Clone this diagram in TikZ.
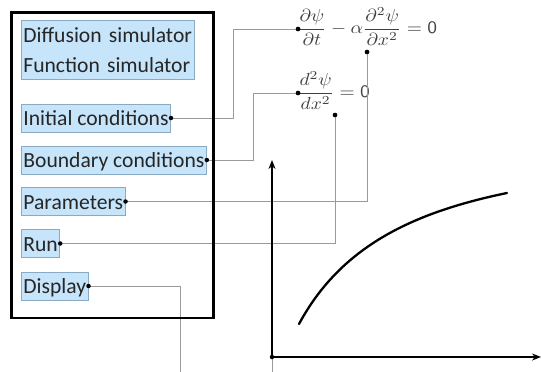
\documentclass[tikz,border=0pt]{standalone}
\usepackage{graphicx}
\usepackage{fontspec}
\newfontfamily\boxfont{Carlito}
\newcommand\menufont{\boxfont\fontsize{21.6}{30}\selectfont\hyphenpenalty=10000\relax\exhyphenpenalty=10000\relax}
\usetikzlibrary{arrows.meta}
\definecolor{boxfill}{HTML}{C6E4FA}
\definecolor{boxline}{HTML}{8AAAC4}
\definecolor{conncol}{HTML}{9A9A9A}
\definecolor{eqcol}{HTML}{404040}
\begin{document}
\begin{tikzpicture}[x=1pt,y=-1pt,
  menubase/.style={draw=boxline, fill=boxfill, line width=0.8pt,
    font=\menufont, text=black!85, inner xsep=2pt},
  menubox/.style={menubase, inner ysep=0pt, minimum height=28pt,
    text height=19.5pt, text depth=4pt, anchor=west},
  conn/.style={draw=conncol, line width=1pt},
  pin/.style={circle, fill=black, inner sep=0pt, minimum size=4.5pt},
  axis/.style={line width=2.6pt, line join=miter, {Stealth[length=9pt,width=7pt]}-{Stealth[length=9pt,width=7pt]}},
  eq/.style={text=eqcol, inner sep=0pt, anchor=base west}]
\useasboundingbox (0,0) rectangle (541,372);
\clip (0,0) rectangle (541,372);

% menu boxes
\node[menubase, anchor=north west, align=left, text width=169pt,
      minimum height=59pt, inner ysep=0pt] (sim) at (21,20)
      {Diffusion simulator\\Function simulator};
\node[menubox] (ini) at (21,118) {Initial conditions};
\node[menubox] (bnd) at (21,160) {Boundary conditions};
\node[menubox] (par) at (21,201.5) {Parameters};
\node[menubox] (run) at (21,243.5) {Run};
\node[menubox] (dis) at (21,286) {Display};

% equations
\node[eq] (eq1) at (297,33.5)
  {\scalebox{1.95}[1.75]{$\displaystyle\frac{\partial\psi}{\partial t}-\alpha\frac{\partial^2\psi}{\partial x^2}=\textsf{0}$}};
\node[eq] (eq2) at (297,97.5)
  {\scalebox{1.95}[1.75]{$\displaystyle\frac{d^2\psi}{dx^2}=\textsf{0}$}};

% pins
\node[pin] (d1) at (298,29) {};
\node[pin] (d2) at (298,93) {};
\node[pin] (d3) at (367,52) {};
\node[pin] (d4) at (335,115) {};
\coordinate (O) at (272,357);
\coordinate (ytop) at (272,160);
\coordinate (xend) at (541,357);

% connectors
\coordinate (k1) at (233,29);
\coordinate (k2) at (253,93);
\coordinate (k5) at (180,380);
\draw[conn] (ini.east) -| (k1) -- (d1);
\draw[conn] (bnd.east) -| (k2) -- (d2);
\draw[conn] (par.east) -| (d3);
\draw[conn] (run.east) -| (d4);
\draw[conn] (dis.east) -| (k5) -| (O);

% frame
\draw[line width=2.8pt] (11.5,12.5) rectangle (213.5,318);

% axes and curve
\draw[axis] (ytop) -- (O) -- (xend);
\draw[line width=2.3pt, line cap=round] (299,324) .. controls (340,248) and (410,213) .. (507,193);

% dots on top
\node[pin] (p1) at (ini.east) {};
\node[pin] (p2) at (bnd.east) {};
\node[pin] (p3) at (par.east) {};
\node[pin] (p4) at (run.east) {};
\node[pin] (p5) at (dis.east) {};
\node[pin] (p0) at (O) {};
\node[pin] (q1) at (d1) {};
\node[pin] (q2) at (d2) {};
\node[pin] (q3) at (d3) {};
\node[pin] (q4) at (d4) {};
\end{tikzpicture}
\end{document}
